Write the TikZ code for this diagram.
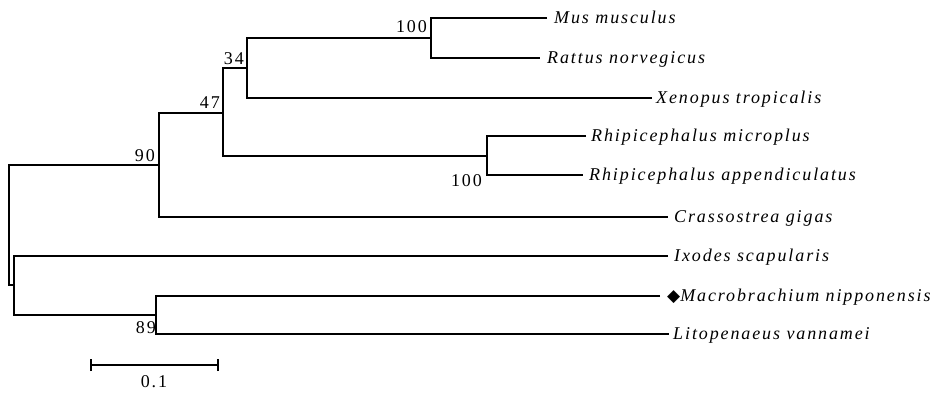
\documentclass[tikz,border=0pt]{standalone}
\usepackage{fontspec}
\setmainfont{Liberation Serif}[LetterSpace=10.5]
\newfontfamily\symfont{DejaVu Sans}
\begin{document}
\begin{tikzpicture}[x=1pt,y=-1pt,
  branch/.style={line width=1.7pt},
  taxon/.style={anchor=base west,inner sep=0pt,font=\fontsize{18}{20}\selectfont\itshape},
  boot/.style={anchor=base east,inner sep=0pt,font=\fontsize{18}{20}\selectfont},
  sbar/.style={line width=1.7pt}]
\useasboundingbox (0,0) rectangle (937,393);
% leaf ends
\coordinate (mus) at (547,18);
\coordinate (rat) at (540,58);
\coordinate (xen) at (652,98);
\coordinate (rmi) at (586,136);
\coordinate (rap) at (583,175);
\coordinate (cra) at (668,217);
\coordinate (ixo) at (668,256);
\coordinate (mac) at (660,296);
\coordinate (lit) at (669,334);
% internal nodes
\coordinate (nA) at (431,38);
\coordinate (n34) at (247,68);
\coordinate (n47) at (223,113);
\coordinate (nB) at (487,156);
\coordinate (n90) at (159,165);
\coordinate (root) at (9,224);
\coordinate (nIx) at (14,285);
\coordinate (n89) at (156,315);
% branches
\draw[branch] (mus) -| (nA) |- (rat);
\draw[branch] (nA) -| (n34) |- (xen);
\draw[branch] (n34) -| (n47) |- (nB);
\draw[branch] (rmi) -| (nB) |- (rap);
\draw[branch] (n47) -| (n90) |- (cra);
\draw[branch] (n90) -| (root) |- (nIx);
\draw[branch] (ixo) -| (nIx) |- (n89);
\draw[branch] (mac) -| (n89) |- (lit);
% taxa
\node[taxon] (tmus) at (554,23.5) {Mus musculus};
\node[taxon] (trat) at (547,63.5) {Rattus norvegicus};
\node[taxon] (txen) at (656,103.5) {Xenopus tropicalis};
\node[taxon] (trmi) at (591,141.5) {Rhipicephalus microplus};
\node[taxon] (trap) at (589,180.5) {Rhipicephalus appendiculatus};
\node[taxon] (tcra) at (674,222.5) {Crassostrea gigas};
\node[taxon] (tixo) at (674,261.5) {Ixodes scapularis};
\node[taxon] (tmac) at (667,301.5) {{\upshape\fontsize{17}{17}\symfont ◆}Macrobrachium nipponensis};
\node[taxon] (tlit) at (673,339.5) {Litopenaeus vannamei};
% bootstrap values
\node[boot] (bA) at (427,33) {100};
\node[boot] (b34) at (244,65) {34};
\node[boot] (b47) at (220,109) {47};
\node[boot] (b90) at (155,161) {90};
\node[boot] (b89) at (156,333) {89};
\node[boot] (bB) at (482,186) {100};
% scale bar
\coordinate (s1) at (91,365);
\coordinate (s2) at (218,365);
\draw[sbar] (s1) -- (s2);
\draw[sbar] ([yshift=-6pt]s1) -- ([yshift=6pt]s1);
\draw[sbar] ([yshift=-6pt]s2) -- ([yshift=6pt]s2);
\node[boot,anchor=center] (slab) at (154,382) {0.1};
\end{tikzpicture}
\end{document}
